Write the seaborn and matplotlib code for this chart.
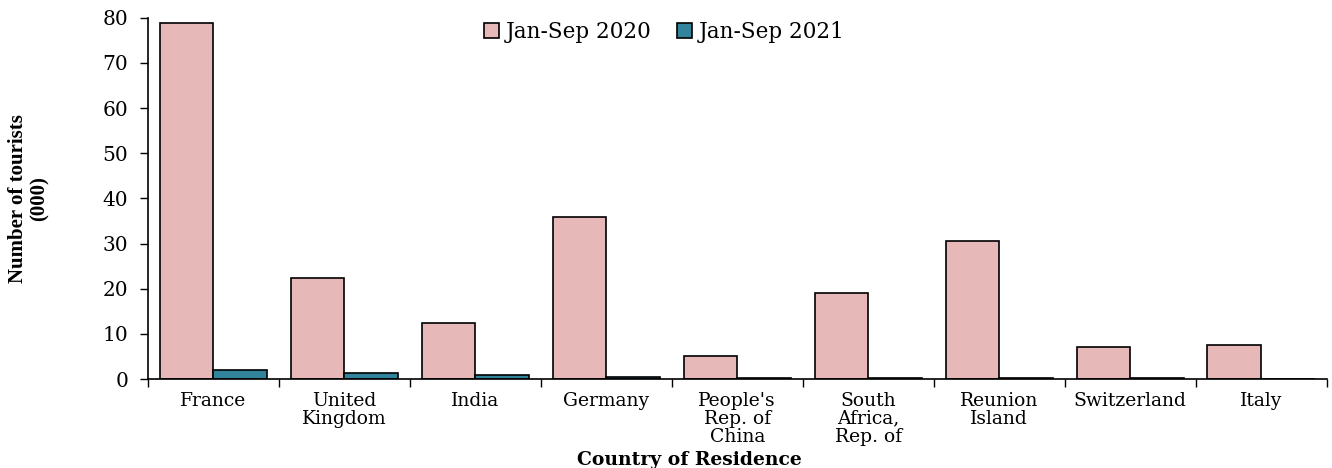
import numpy as np
import pandas as pd
import seaborn as sns
import matplotlib.pyplot as plt
from matplotlib.ticker import FixedLocator

countries = ["France", "United\nKingdom", "India", "Germany", "People's\nRep. of\nChina",
             "South\nAfrica,\nRep. of", "Reunion\nIsland", "Switzerland", "Italy"]
tourists_2020 = [78.9, 22.4, 12.5, 35.9, 5.1, 19.1, 30.5, 7.2, 7.5]
tourists_2021 = [2.0, 1.4, 0.8, 0.4, 0.25, 0.2, 0.15, 0.15, 0.1]
series = ["Jan-Sep 2020", "Jan-Sep 2021"]

df = pd.DataFrame({
    "Country": countries * 2,
    "Tourists": tourists_2020 + tourists_2021,
    "Period": [series[0]] * len(countries) + [series[1]] * len(countries),
})

sns.set_theme(style="ticks")
plt.rcParams['font.family'] = ['DejaVu Serif']
plt.rcParams.update({'text.color': 'black', 'axes.labelcolor': 'black',
                     'xtick.color': 'black', 'ytick.color': 'black'})

fig, ax = plt.subplots(figsize=(13.32, 4.68), dpi=100)
fig.subplots_adjust(left=0.111, right=0.996, top=0.962, bottom=0.19)

palette = {series[0]: "#E6B9B8", series[1]: "#31849B"}
sns.barplot(data=df, x="Country", y="Tourists", hue="Period", palette=palette,
            width=0.82, edgecolor="black", linewidth=1.2, saturation=1, ax=ax)

ax.set_ylim(0, 80)
ax.set_xlim(-0.5, len(countries) - 0.5)
ax.set_yticks(range(0, 81, 10))
ax.tick_params(axis='y', labelsize=14.5, direction='out', length=6, width=1, pad=8, colors='black')
ax.tick_params(axis='x', which='major', length=0, labelsize=13.5, pad=9, colors='black')
ax.xaxis.set_minor_locator(FixedLocator(np.arange(-0.5, len(countries), 1.0)))
ax.tick_params(axis='x', which='minor', length=6, width=1, direction='out', colors='black')
for lbl in ax.get_xticklabels():
    lbl.set_linespacing(1.0)

for side in ['top', 'right']:
    ax.spines[side].set_visible(False)
for side in ['left', 'bottom']:
    ax.spines[side].set_linewidth(1.2)
    ax.spines[side].set_color('black')

ax.set_ylabel("Number of tourists\n(000)", fontsize=15, fontweight='bold', linespacing=1.15,
              family='Liberation Serif', color='black')
ax.yaxis.set_label_coords(-0.083, 0.5)
ax.set_xlabel("Country of Residence", fontsize=13.5, fontweight='bold', color='black')
ax.xaxis.set_label_coords(0.459, -0.2)

ax.legend(loc='upper center', bbox_to_anchor=(0.438, 1.045), ncol=2, frameon=False,
          fontsize=15.5, handlelength=0.7, handleheight=0.7, handletextpad=0.3,
          columnspacing=1.2, title=None, labelcolor='black')

plt.savefig("out.png", dpi=100)
